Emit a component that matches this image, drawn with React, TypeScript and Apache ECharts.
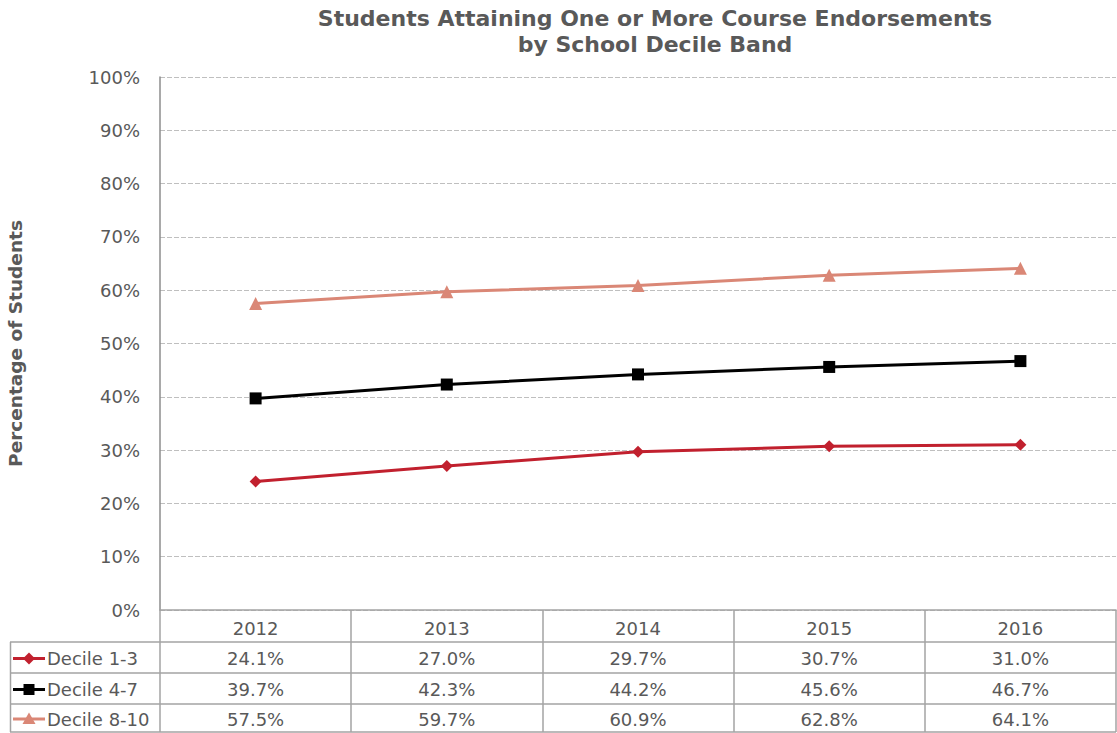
import React, { useEffect, useRef } from "react";
import * as echarts from "echarts";

const years = ["2012", "2013", "2014", "2015", "2016"];
const seriesNames = ["Decile 1-3", "Decile 4-7", "Decile 8-10"];
const decile13 = [24.1, 27.0, 29.7, 30.7, 31.0];
const decile47 = [39.7, 42.3, 44.2, 45.6, 46.7];
const decile810 = [57.5, 59.7, 60.9, 62.8, 64.1];
const seriesColors = ["#C1202E", "#000000", "#DA8776"];
const seriesSymbols = ["diamond", "rect", "triangle"];
const titleLines = ["Students Attaining One or More Course Endorsements", "by School Decile Band"];
const yAxisTitle = "Percentage of Students";

const W = 1117;
const H = 733;
const FONT = "DejaVu Sans, Verdana, sans-serif";
const TEXT = "#595959";
const BORDER = "#A3A3A3";

export default function App() {
  const ref = useRef<HTMLDivElement>(null);
  useEffect(() => {
    document.body.style.margin = "0";
    if (!ref.current) return;
    const chart = echarts.init(ref.current, null, { renderer: "svg", width: W, height: H });
    const allData = [decile13, decile47, decile810];
    const gridLeft = 160;
    const gridTop = 77;
    const gridBottomY = 610;
    const rowYs = [642, 673, 704, 732];

    chart.setOption({
      animation: false,
      textStyle: { fontFamily: FONT },
      title: {
        text: titleLines.join("\n"),
        left: 650,
        textAlign: "center",
        top: 0,
        textStyle: { fontFamily: FONT, fontSize: 22, fontWeight: "bold", color: TEXT, lineHeight: 26 },
      },
      grid: {
        left: gridLeft,
        right: 1,
        top: gridTop,
        bottom: H - gridBottomY,
        containLabel: false,
        outerBoundsMode: "none",
      },
      xAxis: {
        type: "category",
        data: years,
        boundaryGap: true,
        axisLine: { show: true, lineStyle: { color: BORDER, width: 1.5 } },
        axisTick: { show: true, inside: false, length: H - gridBottomY - 1, lineStyle: { color: BORDER, width: 1.5 } },
        axisLabel: { show: true, margin: 9, fontSize: 18, color: TEXT, fontFamily: FONT },
        splitLine: { show: false },
      },
      yAxis: {
        type: "value",
        min: 0,
        max: 100,
        interval: 10,
        name: yAxisTitle,
        nameLocation: "middle",
        nameRotate: 90,
        nameGap: 135,
        nameTextStyle: { fontFamily: FONT, fontSize: 18.5, fontWeight: "bold", color: TEXT },
        axisLine: { show: true, lineStyle: { color: "#8C8C8C", width: 1.5 } },
        axisTick: { show: false },
        axisLabel: { formatter: "{value}%", fontSize: 18, color: TEXT, margin: 20, fontFamily: FONT },
        splitLine: { show: true, lineStyle: { color: "#BFBFBF", type: [5, 2], width: 1 } },
      },
      series: allData.map((d, i) => ({
        name: seriesNames[i],
        type: "line",
        data: d,
        symbol: seriesSymbols[i],
        symbolSize: i === 2 ? 13 : 12,
        showSymbol: true,
        lineStyle: { color: seriesColors[i], width: 3 },
        itemStyle: { color: seriesColors[i] },
        z: 3 + i,
      })),
    });

    const graphics: any[] = [];
    rowYs.forEach((y) => {
      graphics.push({
        type: "line",
        shape: { x1: 10, y1: y, x2: W - 1, y2: y },
        style: { stroke: BORDER, lineWidth: 1.5 },
        silent: true,
      });
    });
    graphics.push({
      type: "line",
      shape: { x1: 10.5, y1: rowYs[0], x2: 10.5, y2: rowYs[3] },
      style: { stroke: BORDER, lineWidth: 1.5 },
    });
    allData.forEach((d, si) => {
      const cy = (rowYs[si] + rowYs[si + 1]) / 2 + 1;
      d.forEach((v, ci) => {
        const x = chart.convertToPixel({ xAxisIndex: 0 }, years[ci]) as number;
        graphics.push({
          type: "text",
          x,
          y: cy,
          style: { text: v.toFixed(1) + "%", fontSize: 18, fill: TEXT, fontFamily: FONT, align: "center", verticalAlign: "middle" },
        });
      });
      const c = seriesColors[si];
      graphics.push({
        type: "line",
        shape: { x1: 13, y1: cy, x2: 45, y2: cy },
        style: { stroke: c, lineWidth: 3 },
      });
      const mx = 29;
      if (si === 0) {
        graphics.push({ type: "polygon", shape: { points: [[mx, cy - 6], [mx + 6, cy], [mx, cy + 6], [mx - 6, cy]] }, style: { fill: c } });
      } else if (si === 1) {
        graphics.push({ type: "rect", shape: { x: mx - 5.5, y: cy - 5.5, width: 11, height: 11 }, style: { fill: c } });
      } else {
        graphics.push({ type: "polygon", shape: { points: [[mx, cy - 6.5], [mx + 6.5, cy + 5], [mx - 6.5, cy + 5]] }, style: { fill: c } });
      }
      graphics.push({
        type: "text",
        x: 47,
        y: cy,
        style: { text: seriesNames[si], fontSize: 18, fill: TEXT, fontFamily: FONT, align: "left", verticalAlign: "middle" },
      });
    });
    chart.setOption({ graphic: graphics });

    return () => chart.dispose();
  }, []);
  return <div ref={ref} style={{ width: W, height: H }} />;
}
